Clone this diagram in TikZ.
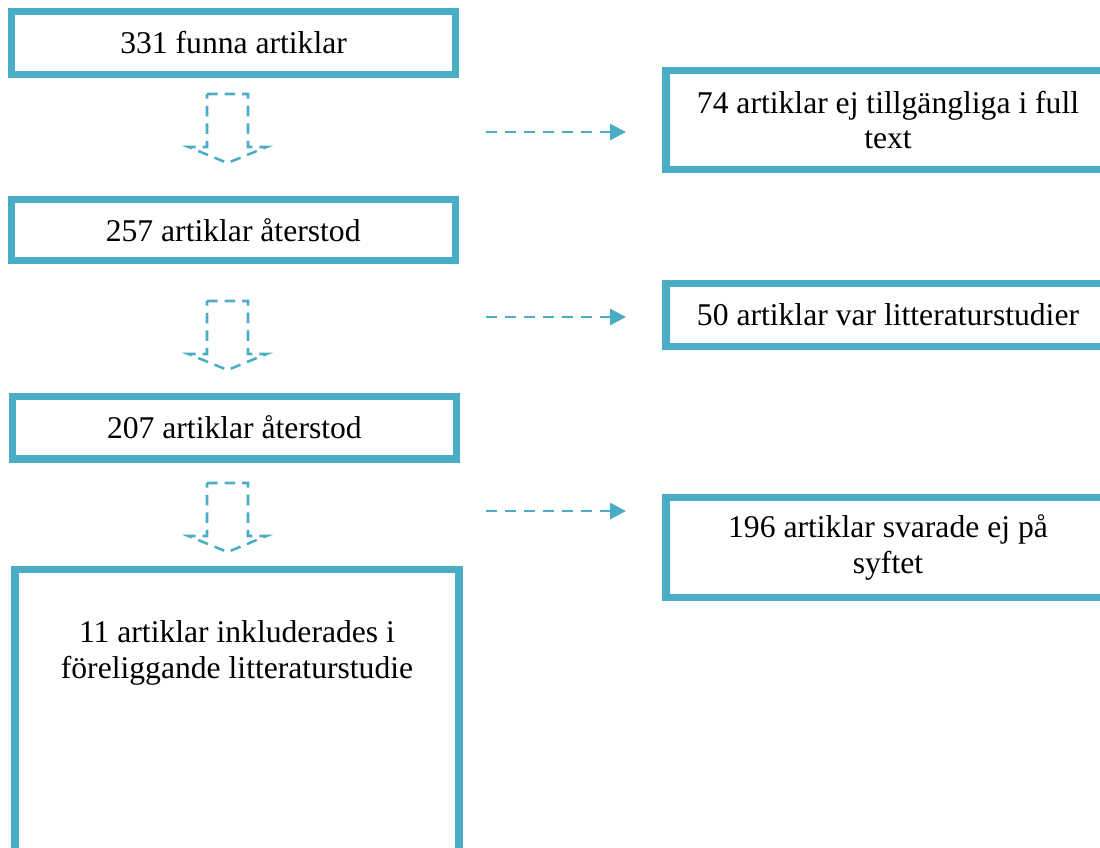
\documentclass[tikz,border=0pt]{standalone}
\usepackage{fontspec}
\setmainfont{Liberation Serif}
\usetikzlibrary{arrows.meta}
\definecolor{accent}{RGB}{75,172,198}

\begin{document}
\begin{tikzpicture}[
	font=\fontsize{22.5}{25.5}\selectfont,
	box/.style={
		rectangle, draw=accent, line width=5pt,
		minimum width=11.1cm, align=center, inner sep=2pt
	},
	flow/.style={draw=accent, line width=1.8pt, dash pattern=on 7.5pt off 5pt},
	excl/.style={
		-{Triangle[length=0.4cm, width=0.4cm]}, draw=accent,
		line width=2.1pt, dash pattern=on 8pt off 5.5pt
	},
	downflow/.pic={
		\draw[flow] (-0.5125,0) -- (0.5125,0) -- (0.5125,-1.325)
			-- (0.975,-1.325) -- (0,-1.725) -- (-0.975,-1.325)
			-- (-0.5125,-1.325) -- cycle;
	}
]
\useasboundingbox (0,0) rectangle (27.5,-21.175);

% Left column x=5.85
\node[box, minimum height=1.56cm] (n331) at (5.84, -1.075) {331 funna artiklar};
\node[box, minimum height=1.54cm] (n257) at (5.83, -5.75)  {257 artiklar återstod};
\node[box, minimum height=1.57cm] (n207) at (5.86, -10.69) {207 artiklar återstod};
\node[box, anchor=north, text height=2.65cm, text depth=5.2cm] (n11) at (5.925, -14.15)
	{11 artiklar inkluderades i\\föreliggande litteraturstudie};

% Right column x=22.2
\node[box, minimum height=2.46cm] (n74)  at (22.2, -3.0)
	{74 artiklar ej tillgängliga i full\\text};
\node[box, minimum height=1.56cm] (n50)  at (22.2, -7.875)
	{50 artiklar var litteraturstudier};
\node[box, minimum height=2.5cm]  (n196) at (22.2, -13.69)
	{196 artiklar svarade ej på\\syftet};

% Block arrows between the left boxes
\pic at (5.6875, -2.35)  {downflow};
\pic at (5.6875, -7.525) {downflow};
\pic at (5.6875, -12.075) {downflow};

% Exclusion arrows
\coordinate (e74a) at (12.15, -3.3);
\coordinate (e74b) at (15.65, -3.3);
\coordinate (e50a) at (12.15, -7.925);
\coordinate (e50b) at (15.65, -7.925);
\coordinate (e196a) at (12.15, -12.775);
\coordinate (e196b) at (15.65, -12.775);

\draw[excl] (e74a) -- (e74b);
\draw[excl] (e50a) -- (e50b);
\draw[excl] (e196a) -- (e196b);

\end{tikzpicture}
\end{document}
